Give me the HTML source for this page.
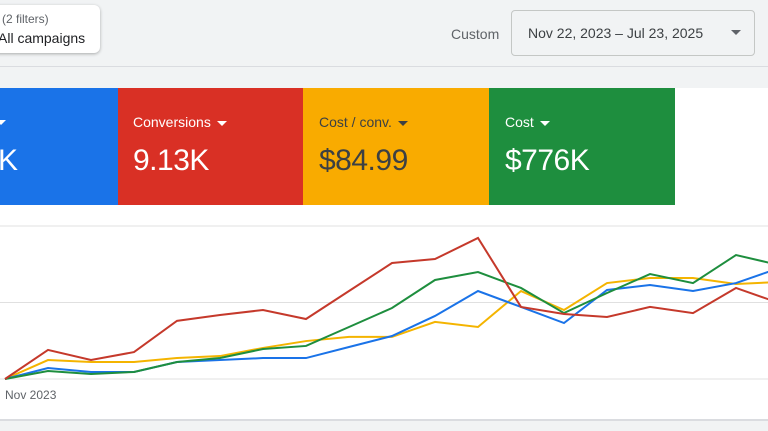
<!DOCTYPE html>
<html><head><meta charset="utf-8"><style>
body{margin:0;width:768px;height:431px;overflow:hidden;background:#f1f3f4;font-family:"Liberation Sans",sans-serif;position:relative}
.abs{position:absolute}
.card{position:absolute;top:88px;height:117px;color:#fff}
.lbl{position:absolute;top:114px;font-size:14px;white-space:nowrap}
.val{position:absolute;top:142px;font-size:30px;white-space:nowrap;letter-spacing:-0.5px}
.tri{display:inline-block;width:0;height:0;border-left:5px solid transparent;border-right:5px solid transparent;border-top:5px solid currentColor;vertical-align:middle;margin-left:6px}
</style></head><body>
<div class="abs" style="left:-10px;top:5px;width:110px;height:48px;background:#fff;border-radius:6px;box-shadow:0 1px 3px rgba(0,0,0,.3)">
<div class="abs" style="left:12px;top:7px;font-size:12px;color:#5f6368">(2 filters)</div>
<div class="abs" style="left:8px;top:25px;font-size:14px;color:#202124">All campaigns</div>
</div>
<div class="abs" style="left:451px;top:26px;font-size:14px;color:#5f6368">Custom</div>
<div class="abs" style="left:511px;top:10px;width:244px;height:46px;border:1px solid #c4c7c5;border-radius:4px;box-sizing:border-box">
<div class="abs" style="left:16px;top:14px;font-size:14px;color:#3c4043">Nov 22, 2023 – Jul 23, 2025</div>
<div class="abs" style="left:219px;top:19px;width:0;height:0;border-left:5px solid transparent;border-right:5px solid transparent;border-top:5px solid #5f6368"></div>
</div>
<div class="abs" style="left:0;top:66px;width:768px;height:1px;background:#dadce0"></div>
<div class="abs" style="left:0;top:88px;width:768px;height:331px;background:#fff;border-bottom:2px solid #dadce0"></div>
<div class="card" style="left:0;width:118px;background:#1a73e8">
<div class="abs" style="left:-4px;top:32px;border-left:5px solid transparent;border-right:5px solid transparent;border-top:5px solid #fff"></div>
<div class="val" style="left:-2px;top:56px">K</div></div>
<div class="card" style="left:118px;width:185px;background:#d93025">
<div class="lbl" style="left:15px;top:26px">Conversions<span class="tri"></span></div>
<div class="val" style="left:15px;top:56px">9.13K</div></div>
<div class="card" style="left:303px;width:186px;background:#f9ab00;color:#3c4043">
<div class="lbl" style="left:16px;top:26px">Cost / conv.<span class="tri"></span></div>
<div class="val" style="left:16px;top:56px">$84.99</div></div>
<div class="card" style="left:489px;width:186px;background:#1e8e3e">
<div class="lbl" style="left:16px;top:26px">Cost<span class="tri"></span></div>
<div class="val" style="left:16px;top:56px">$776K</div></div>
<svg class="abs" style="left:0;top:0" width="768" height="431" id="chart"></svg>
<script>
const xLabels=["Nov 2023"];
const gridValues=[0,50,100];
const red=[0,19,12.4,17.6,38,41.8,45.1,39.2,57.5,75.8,78.4,92.2,47.1,42.5,40.5,47.1,43.1,59.5,49.7];
const blue=[0,7.2,4.6,4.6,11.1,12.4,13.7,13.7,20.9,28.1,41.2,57.5,47.1,36.6,58.2,61.4,57.5,62.7,72.5];
const green=[0,5.2,3.3,4.6,11.1,13.7,19.6,21.6,34,46.4,64.7,69.9,59.5,43.1,56.2,68.6,62.7,81,74.5];
const yellow=[0,12.4,11.1,11.1,13.7,15,20.3,24.8,27.5,27.5,37.3,34,57.5,45.1,62.7,66,66,62.1,63.4];
const svg=document.getElementById('chart');const NS='http://www.w3.org/2000/svg';
const xS=i=>5+43*i, yS=v=>379-v*1.53;
gridValues.forEach(g=>{const l=document.createElementNS(NS,'line');


l.setAttribute('x1',0);l.setAttribute('x2',768);l.setAttribute('y1',yS(g));l.setAttribute('y2',yS(g));l.setAttribute('stroke','#e0e0e0');svg.appendChild(l);});
const t=document.createElementNS(NS,'text');


t.setAttribute('x',5);t.setAttribute('y',399);t.setAttribute('font-size','12');t.setAttribute('fill','#5f6368');t.setAttribute('font-family','Liberation Sans');t.textContent=xLabels[0];svg.appendChild(t);
[[yellow,'#f4b400','series-cost-per-conv'],[blue,'#1a73e8','series-clicks'],[green,'#1e8e3e','series-cost'],[red,'#c5392b','series-conversions']].forEach(([d,c,n])=>{
const p=document.createElementNS(NS,'polyline');


p.setAttribute('points',d.map((v,i)=>xS(i)+','+yS(v)).join(' '));p.setAttribute('fill','none');p.setAttribute('stroke',c);p.setAttribute('stroke-width','2');svg.appendChild(p);});
</script>
</body></html>
